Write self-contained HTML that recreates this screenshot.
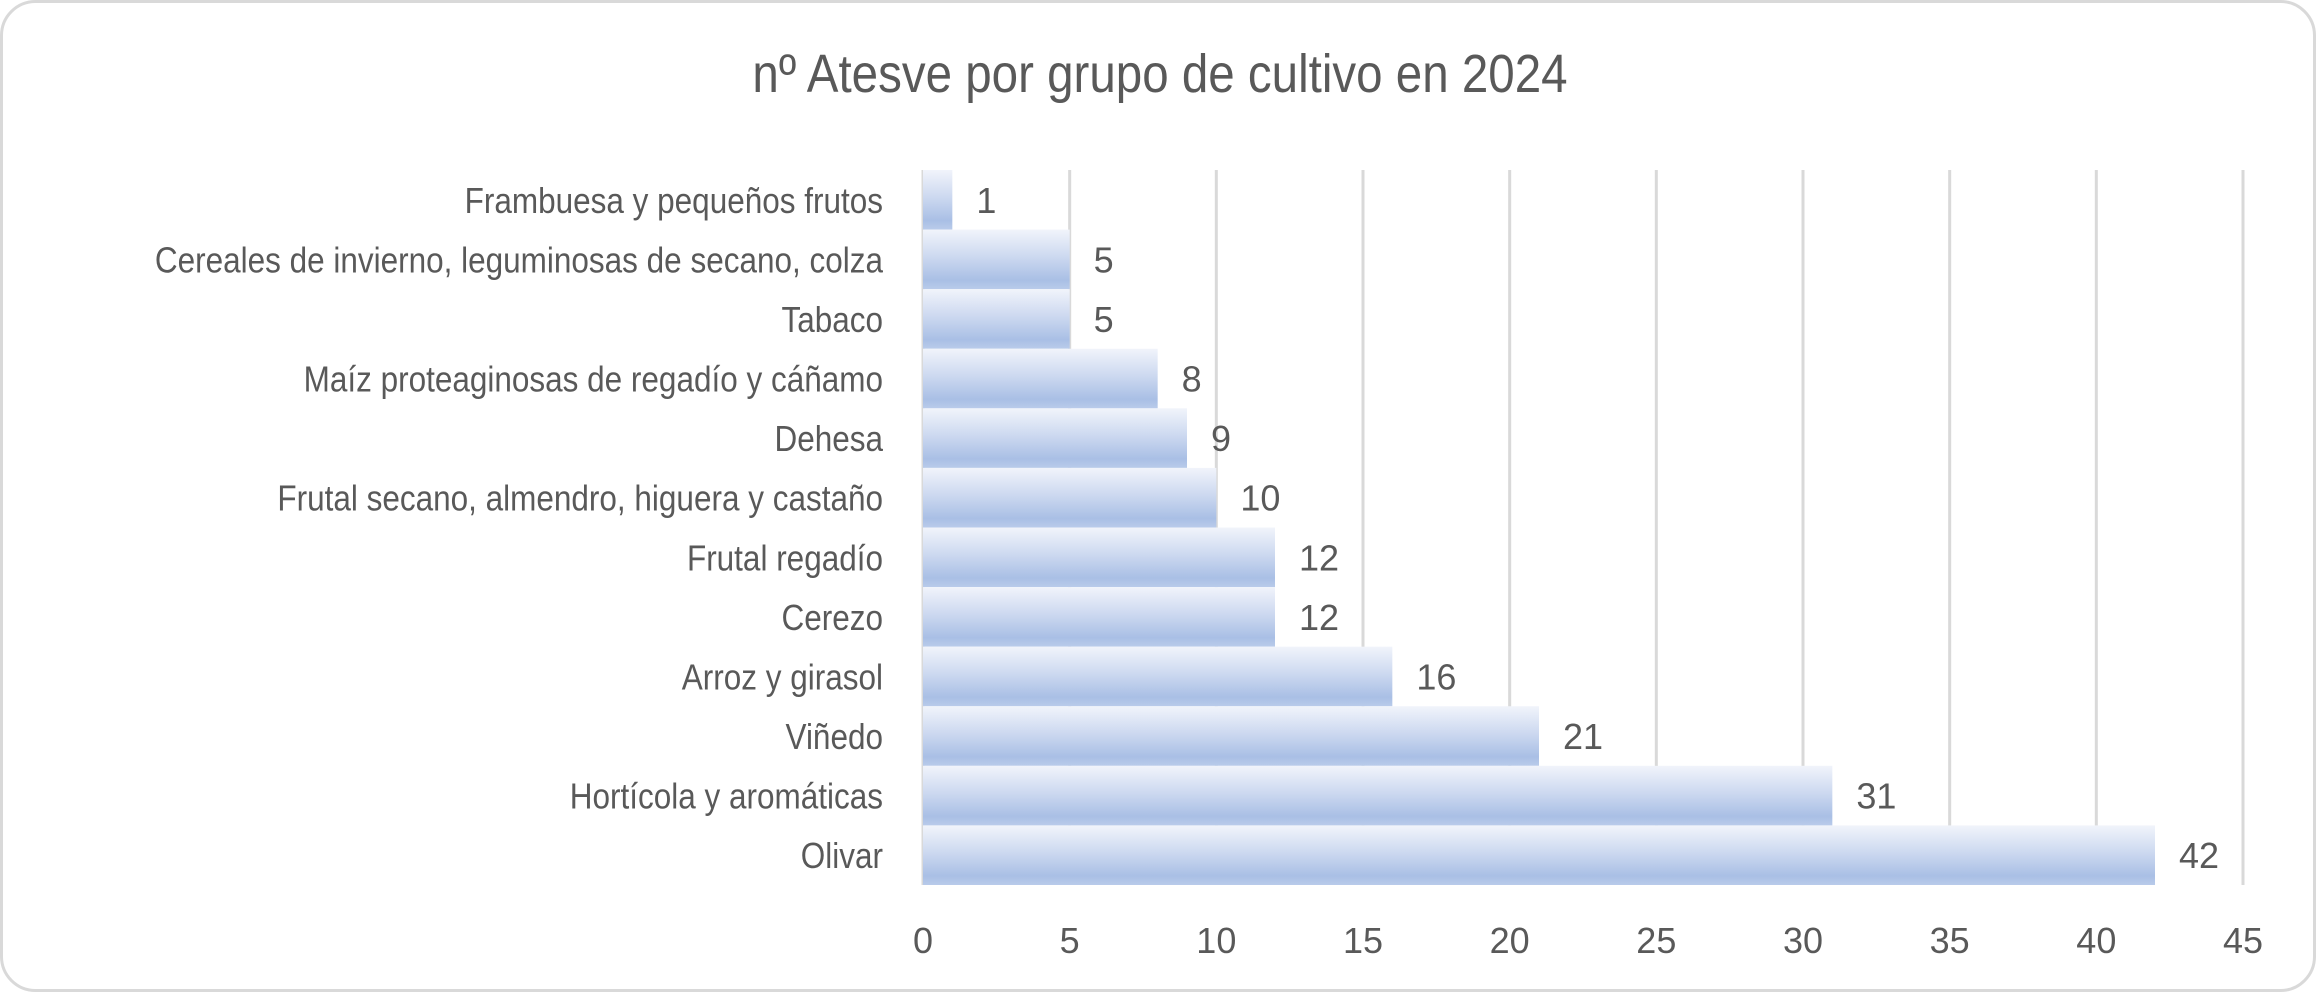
<!DOCTYPE html>
<html><head><meta charset="utf-8"><style>
html,body{margin:0;padding:0;background:#fff;}
svg{display:block;font-family:"Liberation Sans",sans-serif;}
</style></head><body>
<svg id="chart" width="2316" height="992" viewBox="0 0 2316 992">
<defs>
<linearGradient id="barGrad" x1="0" y1="0" x2="0" y2="1">
<stop offset="0" stop-color="#f1f4fb"/>
<stop offset="0.45" stop-color="#cdd9f0"/>
<stop offset="0.85" stop-color="#a9bfe5"/>
<stop offset="1" stop-color="#b9cbea"/>
</linearGradient>
</defs>
<rect x="1.5" y="1.5" width="2313" height="989" rx="34" fill="#fff" stroke="#d9d9d9" stroke-width="3"/>
<text x="1160" y="92" text-anchor="middle" font-size="54" fill="#595959" transform="translate(1160,0) scale(0.88,1) translate(-1160,0)">nº Atesve por grupo de cultivo en 2024</text>
<g id="grid"></g>
<g id="bars"></g>
<g id="labels"></g>
</svg>
<script>
const categories = ["Frambuesa y pequeños frutos","Cereales de invierno, leguminosas de secano, colza","Tabaco","Maíz proteaginosas de regadío y cáñamo","Dehesa","Frutal secano, almendro, higuera y castaño","Frutal regadío","Cerezo","Arroz y girasol","Viñedo","Hortícola y aromáticas","Olivar"];
const values = [1,5,5,8,9,10,12,12,16,21,31,42];
const ticks = [0,5,10,15,20,25,30,35,40,45];

const NS="http://www.w3.org/2000/svg";
const x0=923, x1=2243, xMax=45, yTop=170, yBot=885;
const band=(yBot-yTop)/categories.length;
const xs=v=>x0+(v/xMax)*(x1-x0);
const ys=i=>yTop+i*band;
const grid=document.getElementById('grid'), bars=document.getElementById('bars'), labels=document.getElementById('labels');
function mk(tag,attrs,parent){const e=document.createElementNS(NS,tag);for(const k in attrs)e.setAttribute(k,attrs[k]);parent.appendChild(e);return e;}
ticks.forEach(t=>{
  const l=mk('line',{x1:xs(t),x2:xs(t),y1:yTop,y2:yBot,stroke:'#d9d9d9','stroke-width':3},grid);
  
  
  const tx=mk('text',{x:xs(t),y:953,'text-anchor':'middle','font-size':36,fill:'#595959'},labels);
  tx.textContent=t;
  
  
});
categories.forEach((c,i)=>{
  const r=mk('rect',{x:x0,y:ys(i),width:xs(values[i])-x0,height:band,fill:'url(#barGrad)'},bars);
  
  
  const cy=ys(i)+band/2+13;
  const cl=mk('text',{x:0,y:0,'text-anchor':'end','font-size':36,fill:'#595959',transform:`translate(883,${cy}) scale(0.875,1)`},labels);
  cl.textContent=c;
  
  
  const vl=mk('text',{x:xs(values[i])+24,y:cy,'font-size':36,fill:'#595959'},labels);
  vl.textContent=values[i];
  
  
});
mk('line',{x1:x0,x2:x0,y1:yTop,y2:yBot,stroke:'#d9d9d9','stroke-width':3},grid);
</script>
</body></html>
